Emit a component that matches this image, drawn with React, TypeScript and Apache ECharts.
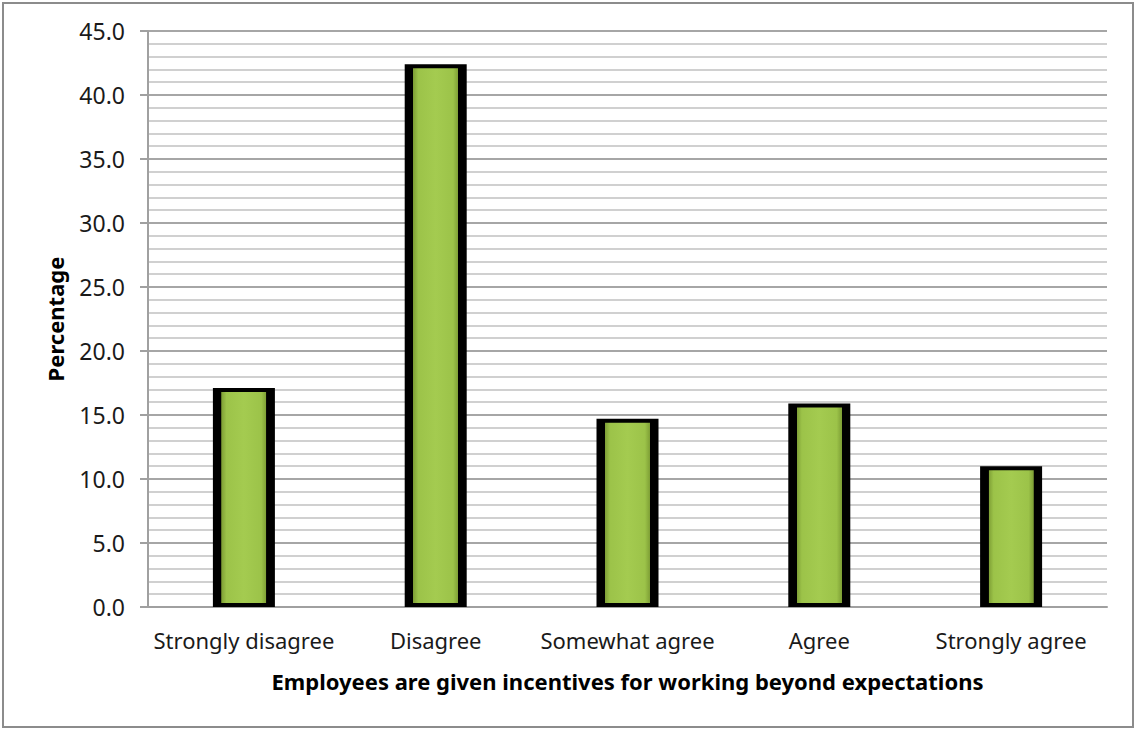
import React, { useEffect, useRef } from "react";
import * as echarts from "echarts";

const categories = ["Strongly disagree", "Disagree", "Somewhat agree", "Agree", "Strongly agree"];
const percentages = [17.1, 42.4, 14.7, 15.9, 11.0];
const xTitle = "Employees are given incentives for working beyond expectations";
const yTitle = "Percentage";

export default function App() {
  const ref = useRef<HTMLDivElement>(null);
  useEffect(() => {
    if (!ref.current) return;
    const chart = echarts.init(ref.current, undefined, { renderer: "svg" });
    const font = "'Noto Sans', 'Open Sans', sans-serif";
    chart.setOption({
      animation: false,
      backgroundColor: "#ffffff",
      graphic: [
        {
          type: "rect",
          shape: { x: 3, y: 3, width: 1130, height: 724 },
          style: { fill: "none", stroke: "#8c8c8c", lineWidth: 2 },
          silent: true,
        },
      ],
      grid: { left: 148, right: 30, top: 31, bottom: 122, containLabel: false },
      xAxis: {
        type: "category",
        data: categories,
        axisLine: { show: true, lineStyle: { color: "#a0a0a0", width: 2 } },
        axisTick: { show: false },
        axisLabel: { color: "#1a1a1a", fontSize: 22, fontFamily: font, margin: 22, interval: 0 },
        name: xTitle,
        nameLocation: "middle",
        nameGap: 63,
        nameTextStyle: { color: "#000", fontSize: 22, fontWeight: "bold", fontFamily: font },
      },
      yAxis: {
        type: "value",
        min: 0,
        max: 45,
        interval: 5,
        axisLine: { show: true, lineStyle: { color: "#a0a0a0", width: 2 } },
        axisTick: { show: true, length: 8, lineStyle: { color: "#a0a0a0", width: 2 } },
        axisLabel: {
          color: "#1a1a1a",
          fontSize: 23,
          fontFamily: font,
          margin: 23,
          formatter: (v: number) => v.toFixed(1),
        },
        splitLine: { show: true, lineStyle: { color: "#a6a6a6", width: 2 } },
        minorTick: { show: false, splitNumber: 5 },
        minorSplitLine: { show: true, lineStyle: { color: "#d0d0d0", width: 2 } },
        name: yTitle,
        nameLocation: "middle",
        nameGap: 82,
        nameTextStyle: { color: "#000", fontSize: 22, fontWeight: "bold", fontFamily: font },
      },
      series: [
        {
          type: "bar",
          data: percentages,
          barWidth: 62,
          itemStyle: {
            borderColor: "#000000",
            borderWidth: 4,
            color: new echarts.graphic.LinearGradient(0, 0, 1, 0, [
              { offset: 0, color: "#000000" },
              { offset: 0.11, color: "#000000" },
              { offset: 0.115, color: "#7fa036" },
              { offset: 0.2, color: "#9cc349" },
              { offset: 0.5, color: "#a4cb50" },
              { offset: 0.8, color: "#9cc349" },
              { offset: 0.885, color: "#7fa036" },
              { offset: 0.89, color: "#000000" },
              { offset: 1, color: "#000000" },
            ]),
          },
        },
      ],
    });
    return () => chart.dispose();
  }, []);
  return (
    <div
      ref={ref}
      style={{ position: "absolute", left: 0, top: 0, width: 1137, height: 729 }}
    />
  );
}
